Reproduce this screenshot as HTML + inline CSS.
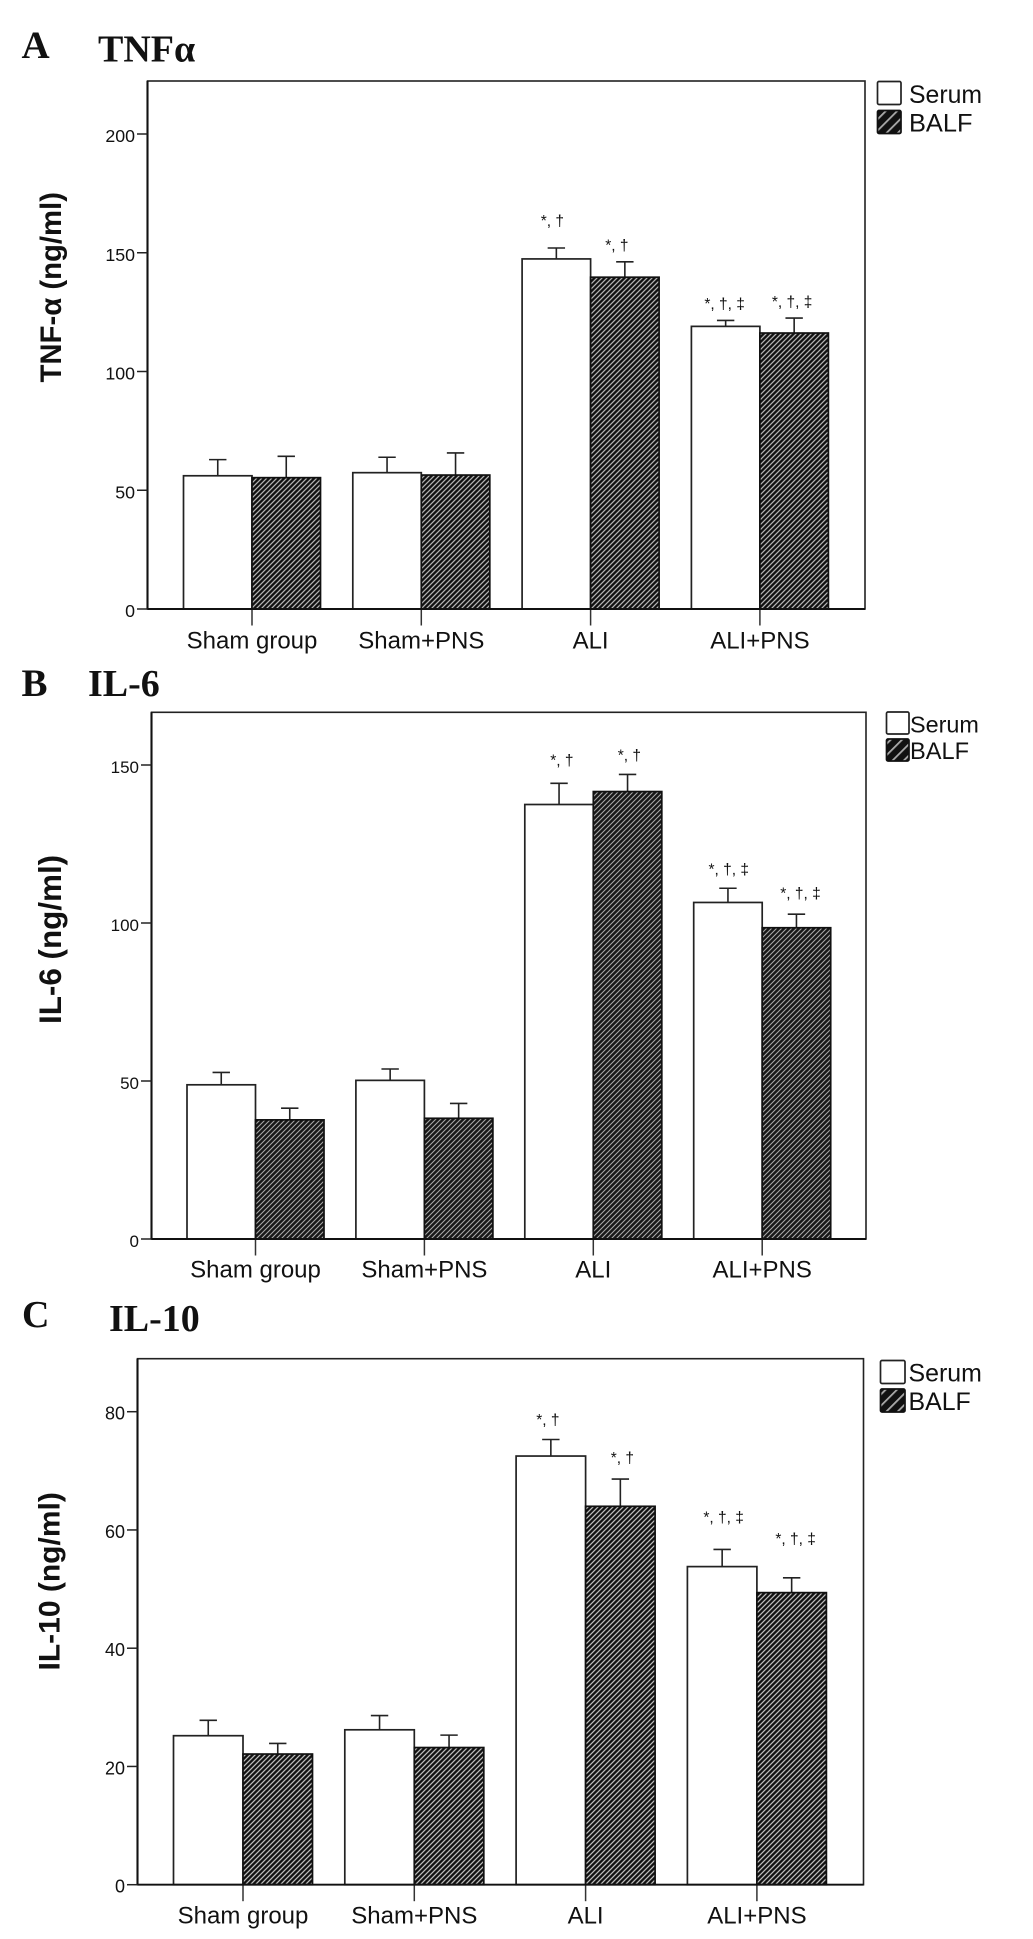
<!DOCTYPE html>
<html lang="en">
<head>
<meta charset="utf-8">
<title>TNF-α, IL-6 and IL-10 levels</title>
<style>
html,body{margin:0;padding:0;background:#fff;}
svg{display:block;}
text{font-family:"Liberation Sans",sans-serif;fill:#111;}
.serif{font-family:"Liberation Serif",serif;font-weight:bold;}
.ytitle{font-weight:bold;}
</style>
</head>
<body>
<svg id="chart" xmlns="http://www.w3.org/2000/svg" width="1033" height="1939" viewBox="0 0 1033 1939">
  <defs>
    <pattern id="hatchA" patternUnits="userSpaceOnUse" width="5" height="5">
      <rect width="5" height="5" fill="#111"/><path d="M-1,1 L1,-1 M0,5 L5,0 M4,6 L6,4" stroke="#b4b4b4" stroke-width="1.25" fill="none"/>
    </pattern>
    <pattern id="hatchB" patternUnits="userSpaceOnUse" width="5" height="5">
      <rect width="5" height="5" fill="#171717"/><path d="M-1,1 L1,-1 M0,5 L5,0 M4,6 L6,4" stroke="#a8a8a8" stroke-width="1.05" fill="none"/>
    </pattern>
    <pattern id="hatchC" patternUnits="userSpaceOnUse" width="5" height="5">
      <rect width="5" height="5" fill="#111"/><path d="M-1,1 L1,-1 M0,5 L5,0 M4,6 L6,4" stroke="#bcbcbc" stroke-width="1.25" fill="none"/>
    </pattern>
    <pattern id="hatchLegend" patternUnits="userSpaceOnUse" width="8" height="8" patternTransform="rotate(45)">
      <rect width="8" height="8" fill="#111"/><rect x="0" width="1.8" height="8" fill="#aaa"/>
    </pattern>
  </defs>

  <text class="serif" x="21.5" y="58" font-size="39">A</text>
  <text class="serif" x="98" y="61.5" font-size="38">TNFα</text>
  <text class="serif" x="21.5" y="696" font-size="39">B</text>
  <text class="serif" x="88" y="696" font-size="38">IL-6</text>
  <text class="serif" x="22" y="1327" font-size="38">C</text>
  <text class="serif" x="109" y="1331" font-size="38">IL-10</text>

  <text class="ytitle" transform="translate(61,382.5) rotate(-90)" font-size="29.3">TNF-α (ng/ml)</text>
  <text class="ytitle" transform="translate(61,1024) rotate(-90)" font-size="31.4">IL-6 (ng/ml)</text>
  <text class="ytitle" transform="translate(59.5,1670.5) rotate(-90)" font-size="30">IL-10 (ng/ml)</text>

  <g>
    <rect x="877.5" y="81.5" width="23.5" height="23" rx="1.5" fill="#fff" stroke="#222" stroke-width="1.7"/>
    <text x="909" y="103" font-size="24.8">Serum</text>
    <rect x="877.5" y="110.5" width="23.5" height="23" rx="1.5" fill="url(#hatchLegend)" stroke="#111" stroke-width="1.7"/>
    <text x="909" y="131.5" font-size="25.4">BALF</text>
  </g>
  <g>
    <rect x="886.5" y="712" width="22.5" height="22" rx="1.5" fill="#fff" stroke="#222" stroke-width="1.7"/>
    <text x="910" y="732.5" font-size="23.4">Serum</text>
    <rect x="886.5" y="739" width="22.5" height="22" rx="1.5" fill="url(#hatchLegend)" stroke="#111" stroke-width="1.7"/>
    <text x="910" y="759" font-size="23.6">BALF</text>
  </g>
  <g>
    <rect x="880.5" y="1360.5" width="24.5" height="23" rx="1.5" fill="#fff" stroke="#222" stroke-width="1.7"/>
    <text x="908.5" y="1381.5" font-size="24.9">Serum</text>
    <rect x="880.5" y="1389" width="24.5" height="23" rx="1.5" fill="url(#hatchLegend)" stroke="#111" stroke-width="1.7"/>
    <text x="908.5" y="1410" font-size="24.9">BALF</text>
  </g>
</svg>
<script>
const categories = ['Sham group', 'Sham+PNS', 'ALI', 'ALI+PNS'];
const significance = ['', '', '*, †', '*, †, ‡'];

const tnfTicks = [0, 50, 100, 150, 200];
const tnfSerum = [56.1, 57.4, 147.4, 119.0];
const tnfSerumUpper = [62.9, 63.9, 152.0, 121.5];
const tnfBalf = [55.3, 56.4, 139.7, 116.2];
const tnfBalfUpper = [64.3, 65.7, 146.2, 122.5];

const il6Ticks = [0, 50, 100, 150];
const il6Serum = [48.8, 50.2, 137.5, 106.5];
const il6SerumUpper = [52.7, 53.8, 144.2, 111.0];
const il6Balf = [37.7, 38.2, 141.6, 98.5];
const il6BalfUpper = [41.4, 42.9, 147.0, 102.8];

const il10Ticks = [0, 20, 40, 60, 80];
const il10Serum = [25.2, 26.2, 72.5, 53.8];
const il10SerumUpper = [27.8, 28.6, 75.3, 56.7];
const il10Balf = [22.1, 23.2, 64.0, 49.4];
const il10BalfUpper = [23.9, 25.3, 68.6, 51.9];

const svg = document.getElementById('chart');
const NS = 'http://www.w3.org/2000/svg';

function make(tag, attrs, parent) {
  const el = document.createElementNS(NS, tag);
  for (const k in attrs) el.setAttribute(k, attrs[k]);
  parent.appendChild(el);
  return el;
}

function drawPanel(p) {
  const g = make('g', {}, svg);
  
  

  const yAxis = v => p.zeroY - (v / p.refValue) * (p.zeroY - p.refY);
  const xBand = i => p.firstCenter + i * p.step;

  // bars and error bars
  categories.forEach((cat, i) => {
    const c = xBand(i);
    const series = [
      { key: 'serum', val: p.serum[i], hi: p.serumUpper[i], x: c - p.barW, fill: '#fff' },
      { key: 'balf', val: p.balf[i], hi: p.balfUpper[i], x: c, fill: 'url(#' + p.hatch + ')' }
    ];
    series.forEach((s, si) => {
      const mid = s.x + p.barW / 2;
      const stem = make('line', { x1: mid, x2: mid, y1: yAxis(s.val), y2: yAxis(s.hi), stroke: '#222', 'stroke-width': 1.6 }, g);
      
      
      const cap = make('line', { x1: mid - 8.7, x2: mid + 8.7, y1: yAxis(s.hi), y2: yAxis(s.hi), stroke: '#222', 'stroke-width': 1.6 }, g);
      
      
      const bar = make('rect', { x: s.x, y: yAxis(s.val), width: p.barW, height: p.zeroY - yAxis(s.val), fill: s.fill, stroke: si ? '#111' : '#222', 'stroke-width': 1.7 }, g);
      
      

      if (significance[i]) {
        const k = (i - 2) * 2 + si;
        const sig = make('text', { x: mid + p.sigDx[k], y: yAxis(s.hi) - p.sigGap[k] - 3, 'font-size': 15.5, 'text-anchor': 'middle' }, g);
        sig.textContent = significance[i];
        
        
      }
    });

    const xt = make('line', { x1: c, x2: c, y1: p.zeroY, y2: p.zeroY + 16.5, stroke: '#333', 'stroke-width': 1.5 }, g);
    
    
    const xl = make('text', { x: c, y: p.zeroY + p.labelDy, 'font-size': 24, 'text-anchor': 'middle' }, g);
    xl.textContent = cat;
    
    
  });

  // frame
  const frame = make('rect', { x: p.left, y: p.top, width: p.right - p.left, height: p.zeroY - p.top, fill: 'none', stroke: '#222', 'stroke-width': 1.6 }, g);
  
  
  const axis = make('line', { x1: p.left, x2: p.left, y1: p.top, y2: p.zeroY, stroke: '#111', 'stroke-width': 2.1 }, g);
  
  
  const base = make('line', { x1: p.left, x2: p.right, y1: p.zeroY, y2: p.zeroY, stroke: '#111', 'stroke-width': 1.9 }, g);
  
  

  // y ticks
  p.ticks.forEach(t => {
    const ty = yAxis(t);
    const tk = make('line', { x1: p.left - 10.5, x2: p.left, y1: ty, y2: ty, stroke: '#222', 'stroke-width': 1.5 }, g);
    
    
    const tl = make('text', { x: p.left - 12.5, y: ty + 8, 'font-size': p.tickFont, 'text-anchor': 'end' }, g);
    tl.textContent = t;
    
    
  });
}

drawPanel({
  name: 'panel-a-tnf-chart', left: 147.5, right: 865, top: 81, zeroY: 609, refValue: 200, refY: 134,
  firstCenter: 252, step: 169.3, barW: 68.5, hatch: 'hatchA', labelDy: 39.5, tickFont: 17.8,
  ticks: tnfTicks, serum: tnfSerum, serumUpper: tnfSerumUpper, balf: tnfBalf, balfUpper: tnfBalfUpper,
  sigDx: [-4, -8, -1, -2], sigGap: [19, 8.4, 8.3, 8]
});
drawPanel({
  name: 'panel-b-il6-chart', left: 151.5, right: 866, top: 712.3, zeroY: 1239, refValue: 150, refY: 765,
  firstCenter: 255.5, step: 168.9, barW: 68.5, hatch: 'hatchB', labelDy: 38.7, tickFont: 17,
  ticks: il6Ticks, serum: il6Serum, serumUpper: il6SerumUpper, balf: il6Balf, balfUpper: il6BalfUpper,
  sigDx: [2.8, 1.8, 0.8, 4], sigGap: [15, 11, 10.6, 12.7]
});
drawPanel({
  name: 'panel-c-il10-chart', left: 137.5, right: 863.5, top: 1358.7, zeroY: 1884.7, refValue: 80, refY: 1411.7,
  firstCenter: 243, step: 171.3, barW: 69.5, hatch: 'hatchC', labelDy: 38.7, tickFont: 18,
  ticks: il10Ticks, serum: il10Serum, serumUpper: il10SerumUpper, balf: il10Balf, balfUpper: il10BalfUpper,
  sigDx: [-3, 2, 1.5, 4], sigGap: [11.7, 13, 24, 31]
});
</script>
</body>
</html>
